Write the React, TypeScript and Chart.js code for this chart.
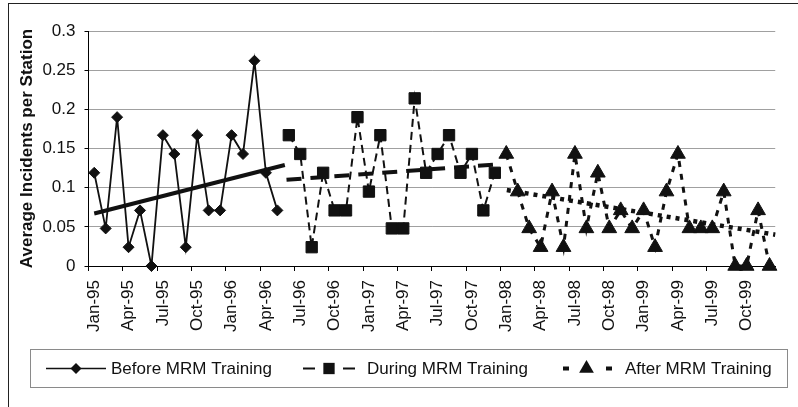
import React, { useEffect, useRef } from 'react';
import { Chart, registerables } from 'chart.js';

Chart.register(...registerables);

// ---- Data ----
const months = [
  'Jan-95', 'Feb-95', 'Mar-95', 'Apr-95', 'May-95', 'Jun-95', 'Jul-95', 'Aug-95', 'Sep-95', 'Oct-95', 'Nov-95', 'Dec-95',
  'Jan-96', 'Feb-96', 'Mar-96', 'Apr-96', 'May-96', 'Jun-96', 'Jul-96', 'Aug-96', 'Sep-96', 'Oct-96', 'Nov-96', 'Dec-96',
  'Jan-97', 'Feb-97', 'Mar-97', 'Apr-97', 'May-97', 'Jun-97', 'Jul-97', 'Aug-97', 'Sep-97', 'Oct-97', 'Nov-97', 'Dec-97',
  'Jan-98', 'Feb-98', 'Mar-98', 'Apr-98', 'May-98', 'Jun-98', 'Jul-98', 'Aug-98', 'Sep-98', 'Oct-98', 'Nov-98', 'Dec-98',
  'Jan-99', 'Feb-99', 'Mar-99', 'Apr-99', 'May-99', 'Jun-99', 'Jul-99', 'Aug-99', 'Sep-99', 'Oct-99', 'Nov-99', 'Dec-99',
];

// Before MRM Training: Jan-95 .. May-96
const beforeStart = 0;
const beforeValues = [0.119, 0.048, 0.190, 0.024, 0.071, 0, 0.167, 0.143, 0.024, 0.167, 0.071, 0.071, 0.167, 0.143, 0.262, 0.119, 0.071];

// During MRM Training: Jun-96 .. Dec-97
const duringStart = 17;
const duringValues = [0.167, 0.143, 0.024, 0.119, 0.071, 0.071, 0.190, 0.095, 0.167, 0.048, 0.048, 0.214, 0.119, 0.143, 0.167, 0.119, 0.143, 0.071, 0.119];

// After MRM Training: Jan-98 .. Dec-99
const afterStart = 36;
const afterValues = [0.143, 0.095, 0.048, 0.024, 0.095, 0.024, 0.143, 0.048, 0.119, 0.048, 0.071, 0.048, 0.071, 0.024, 0.095, 0.143, 0.048, 0.048, 0.048, 0.095, 0, 0, 0.071, 0];

// Linear trendlines (month index, value)
const beforeTrendX = [0, 16.65];
const beforeTrendY = [0.067, 0.129];
const duringTrendX = [16.8, 35.5];
const duringTrendY = [0.110, 0.130];
const afterTrendX = [36.05, 59.5];
const afterTrendY = [0.097, 0.040];

const yTicks = ['0', '0.05', '0.1', '0.15', '0.2', '0.25', '0.3'];

const seriesNames = ['Before MRM Training', 'During MRM Training', 'After MRM Training'];

const FONT = "'Liberation Sans', Arial, Helvetica, sans-serif";
const INK = '#111';

function pad(start: number, values: number[]) {
  return months.map((_, i) => (i >= start && i < start + values.length ? values[i - start] : null));
}
function trend(xs: number[], ys: number[]) {
  return xs.map((x, i) => ({ x, y: ys[i] }));
}

function drawMarker(ctx: CanvasRenderingContext2D, style: string, x: number, y: number, r: number) {
  ctx.beginPath();
  if (style === 'rectRot') {
    ctx.moveTo(x - r, y);
    ctx.lineTo(x, y - r);
    ctx.lineTo(x + r, y);
    ctx.lineTo(x, y + r);
  } else if (style === 'rect') {
    const s = r * Math.SQRT1_2;
    ctx.rect(x - s, y - s, 2 * s, 2 * s);
  } else {
    const h = Math.sqrt(3) / 2 * r;
    ctx.moveTo(x, y - r);
    ctx.lineTo(x + h, y + r / 2);
    ctx.lineTo(x - h, y + r / 2);
  }
  ctx.closePath();
  ctx.fill();
}

const legendItems = [
  { ds: 0, x0: 46, x1: 106, dash: [] as number[], width: 1.5, textX: 111 },
  { ds: 1, x0: 303, x1: 355, dash: [12, 28], width: 2, textX: 367 },
  { ds: 2, x0: 563, x1: 612, dash: [6, 37], width: 4, textX: 625 },
];

const legendPlugin = {
  id: 'mrmLegend',
  afterDraw(chart: any) {
    const ctx: CanvasRenderingContext2D = chart.ctx;
    ctx.save();
    ctx.strokeStyle = '#8a8a8a';
    ctx.lineWidth = 1;
    ctx.setLineDash([]);
    ctx.strokeRect(30.5, 349.5, 757, 38);
    const cy = 368.5;
    ctx.font = `17px ${FONT}`;
    ctx.textBaseline = 'middle';
    ctx.textAlign = 'left';
    legendItems.forEach((it) => {
      const ds = chart.data.datasets[it.ds];
      ctx.strokeStyle = INK;
      ctx.fillStyle = INK;
      ctx.lineWidth = it.width;
      ctx.setLineDash(it.dash);
      ctx.beginPath();
      ctx.moveTo(it.x0, cy);
      ctx.lineTo(it.x1, cy);
      ctx.stroke();
      ctx.setLineDash([]);
      drawMarker(ctx, ds.pointStyle, (it.x0 + it.x1) / 2 - (it.ds === 2 ? 1 : 0), cy, ds.pointRadius);
      ctx.fillStyle = INK;
      ctx.fillText(seriesNames[it.ds], it.textX, cy + 1);
    });
    ctx.restore();
  },
};

export default function App() {
  const ref = useRef<HTMLCanvasElement | null>(null);

  useEffect(() => {
    if (!ref.current) return;
    const chart = new Chart(ref.current, {
      type: 'line',
      data: {
        labels: months,
        datasets: [
          {
            label: seriesNames[0],
            data: pad(beforeStart, beforeValues),
            borderColor: INK,
            backgroundColor: INK,
            borderWidth: 1.8,
            pointStyle: 'rectRot',
            pointRadius: 5.5,
            pointBorderWidth: 1,
            pointBackgroundColor: INK,
            pointBorderColor: INK,
            tension: 0,
            clip: false,
          },
          {
            label: seriesNames[1],
            data: pad(duringStart, duringValues),
            borderColor: INK,
            backgroundColor: INK,
            borderWidth: 2,
            borderDash: [8, 5],
            pointStyle: 'rect',
            pointRadius: 8,
            pointBorderWidth: 1,
            pointBackgroundColor: INK,
            pointBorderColor: INK,
            tension: 0,
            clip: false,
          },
          {
            label: seriesNames[2],
            data: pad(afterStart, afterValues),
            borderColor: INK,
            backgroundColor: INK,
            borderWidth: 3,
            borderDash: [6, 7],
            pointStyle: 'triangle',
            pointRadius: 8.5,
            pointBorderWidth: 1,
            pointBackgroundColor: INK,
            pointBorderColor: INK,
            tension: 0,
            clip: false,
          },
          {
            label: 'before trend',
            xAxisID: 'xt',
            data: trend(beforeTrendX, beforeTrendY),
            borderColor: INK,
            borderWidth: 4,
            pointRadius: 0,
            clip: false,
          },
          {
            label: 'during trend',
            xAxisID: 'xt',
            data: trend(duringTrendX, duringTrendY),
            borderColor: INK,
            borderWidth: 4,
            borderDash: [15, 9],
            pointRadius: 0,
            clip: false,
          },
          {
            label: 'after trend',
            xAxisID: 'xt',
            data: trend(afterTrendX, afterTrendY),
            borderColor: INK,
            borderWidth: 4.5,
            borderDash: [4, 5],
            pointRadius: 0,
            clip: false,
          },
        ] as any,
      },
      options: {
        animation: false,
        responsive: false,
        maintainAspectRatio: false,
        layout: { padding: { top: 31, left: 0, right: 0, bottom: 0 } },
        plugins: {
          legend: { display: false },
          tooltip: { enabled: false },
        },
        scales: {
          x: {
            type: 'category',
            offset: true,
            grid: {
              offset: true,
              drawOnChartArea: false,
              drawTicks: true,
              tickLength: 5,
              color: (c: any) => (c.index !== undefined && c.index % 3 === 0 ? '#000' : 'rgba(0,0,0,0)'),
              tickColor: (c: any) => (c.index !== undefined && c.index % 3 === 0 ? '#000' : 'rgba(0,0,0,0)'),
            },
            border: { display: true, color: '#000', width: 1 },
            ticks: {
              autoSkip: false,
              maxRotation: 90,
              minRotation: 90,
              padding: 9,
              color: INK,
              font: { family: FONT, size: 17 },
              callback: (_v: any, i: number) => (i % 3 === 0 ? months[i] : ''),
            },
            afterFit: (s: any) => {
              s.height = 141;
            },
          },
          xt: {
            type: 'linear',
            display: false,
            min: -0.5,
            max: 59.5,
          },
          y: {
            min: 0,
            max: 0.3,
            ticks: {
              stepSize: 0.05,
              padding: 9,
              color: INK,
              font: { family: FONT, size: 17 },
              callback: (_v: any, i: number) => yTicks[i],
            },
            grid: { color: '#a0a0a0', lineWidth: 1, tickLength: 4, tickColor: '#000' },
            border: { display: true, color: '#000', width: 1 },
            title: {
              display: true,
              text: 'Average Incidents per Station',
              color: INK,
              font: { family: FONT, size: 17, weight: 'bold' },
              padding: { top: 17, bottom: 0 },
            },
            afterFit: (s: any) => {
              s.width = 88.5;
            },
          },
        } as any,
      },
      plugins: [legendPlugin],
    });
    return () => chart.destroy();
  }, []);

  return (
    <div style={{ position: 'fixed', left: 0, top: 0, width: 798, height: 407, overflow: 'hidden', background: '#fff' }}>
      <canvas ref={ref} width={799} height={407} style={{ position: 'absolute', left: 0, top: 0, width: 799, height: 407 }} />
      <div
        style={{
          position: 'absolute',
          left: 8,
          top: 3,
          width: 900,
          height: 600,
          border: '1.5px solid #222',
          pointerEvents: 'none',
        }}
      />
    </div>
  );
}
